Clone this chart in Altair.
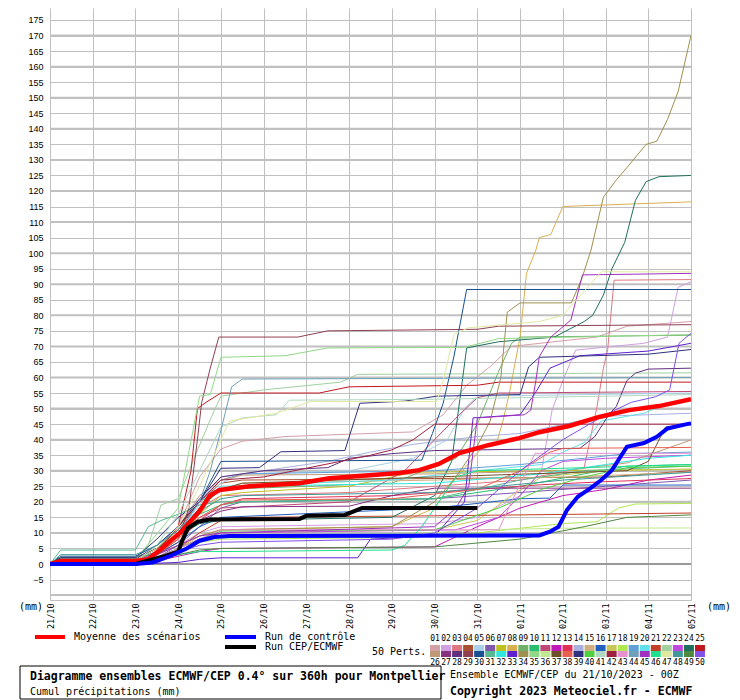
import altair as alt
import pandas as pd

MONO = "DejaVu Sans Mono"

DAY_LABELS = ["21/10", "22/10", "23/10", "24/10", "25/10", "26/10", "27/10", "28/10",
              "29/10", "30/10", "31/10", "01/11", "02/11", "03/11", "04/11", "05/11"]
Y_TICKS = list(range(-5, 180, 5))
THICK_GRID = [v for v in range(-10, 180, 10) if v != 0]

MEMBER_COLORS = [
    "#d4a0a8", "#d0a0e0", "#e07880", "#a85030", "#a8d0e8", "#8058b0", "#c0c020", "#d8b050",
    "#70b068", "#28c070", "#c04878", "#c018b8", "#e03058", "#a8b0e0", "#d0b080", "#2060c0",
    "#c8c858", "#b0e850", "#60a0d8", "#60e0e8", "#c04028", "#a0d0a0", "#c048e0", "#207060",
    "#c01820",
    "#c09878", "#883080", "#603080", "#904050", "#185090", "#58b890", "#30e8e0", "#6020d0",
    "#a09050", "#90d888", "#c0e890", "#705028", "#e86050", "#303080", "#50d040", "#b0d8c0",
    "#a02040", "#e890d0", "#70a0b8", "#a030c0", "#20e090", "#e0e8a0", "#409898", "#508840",
    "#8050e8",
]

# member series: (day since 21/10 00Z, cumulated mm)
m01 = [(0,0),(0.25,1),(2,1),(2.5,3),(3,12),(3.5,28),(4,37),(4.5,39.5),(5.5,41),(8.5,42.5),(9.2,48),(9.75,57.5),(10.3,63.5),(10.8,70),(12.8,73),(13.5,76.5),(15,78)]
m02 = [(0,0),(0.25,1.5),(2,1.5),(2.5,3),(3,6),(3.5,10),(4,12),(9,13),(10,15),(11,22),(11.5,30),(11.75,49.5),(12,59),(12.3,68.8),(13.9,71),(14.45,73),(14.7,89),(15,90.8)]
m03 = [(0,0),(0.25,1),(2,1),(2.5,4),(3,10),(3.5,18),(4,22),(7,23),(9,25),(11,27),(12.5,31),(12.8,50.6),(12.95,63),(13.05,69),(13.2,91.3),(15,91.5)]
m04 = [(0,0),(0.25,1),(2,1),(2.5,5),(3,11),(3.5,20),(4,26),(4.5,27),(9,27.5),(13,28),(15,30)]
m05 = [(0,0),(0.25,1),(2,1),(2.5,4),(3,10),(3.5,19),(4,26),(4.5,29),(7,30),(8.5,34),(9.3,40),(9.7,50),(10,54),(15,55)]
m06 = [(0,0),(0.25,0.5),(2,0.5),(2.5,2),(3,6),(3.5,12),(4,18),(4.5,20),(9,21),(11,23),(13,25),(15,27)]
m07 = [(0,0),(0.25,1),(2,1),(2.5,3),(3,8),(3.5,16),(4,22),(4.5,23),(7,25),(8.5,29.5),(15,30.5)]
m08 = [(0,0),(0.25,1),(2,1),(2.5,2),(3,5),(3.5,9),(4,11),(8,12),(9,18),(9.4,26),(9.65,30),(10.1,37.3),(10.45,39),(10.6,46),(10.75,55),(11,73),(11.15,93.5),(11.37,101),(11.45,105),(11.72,106),(12,115),(15,116.5)]
m09 = [(0,0),(0.25,1.5),(2,1.5),(2.5,5),(3,12),(3.5,20),(4,24),(8,26),(9.5,34),(10,45),(10.5,62),(10.8,71),(11,73),(15,73.6)]
m10 = [(0,0),(0.25,2),(2,2),(2.5,5),(3,10),(3.5,16),(4,19),(4.5,20),(9,21),(11,25),(12.5,29),(13.5,31.5),(15,32)]
m11 = [(0,0),(0.25,1),(2,1),(2.5,4),(3,9),(3.5,15),(4,18),(7,20),(8.3,30),(9,40),(9.5,47),(10,53.5),(10.5,55),(15,55.5)]
m12 = [(0,0),(0.25,0.5),(2,0.5),(2.5,1),(3,2.5),(3.5,4),(4,5),(9,5.5),(10,12),(11,18),(12,22),(13,24),(14,27),(15,28.6)]
m13 = [(0,0),(0.25,1),(2,1),(2.5,3),(3,7),(3.5,14),(4,19),(4.5,21),(8,22),(10,24),(11.5,25.5),(13,26.5),(15,27.5)]
m14 = [(0,0),(0.25,1),(2,1),(2.5,4),(3,10),(3.5,20),(4,28),(5,30),(6.5,33),(7.5,36),(8.5,38.5),(10,41),(11,42),(12.9,47.5),(15,48.5)]
m15 = [(0,0),(0.25,1),(2,1),(2.5,4),(3,10),(3.5,18),(4,24),(4.5,26),(9,27),(12,28),(15,29.5)]
m16 = [(0,0),(0.25,1),(2,1),(2.5,3),(3,7),(3.5,12),(4,15),(9,18),(11,21),(11.7,21.2),(12,25.4),(15,25.4)]
m17 = [(0,0),(0.25,0.5),(2,0.5),(2.5,2),(3,5),(3.5,8),(4,10),(9,11),(10,14),(10.8,22),(11.5,28),(13,30),(15,30.5)]
m18 = [(0,0),(0.25,0.5),(2,0.5),(2.5,2),(3,4),(3.5,7),(4,8),(8,8.5),(10,10),(12,13),(12.8,13.6),(13.3,18),(13.7,19.3),(15,19.5)]
m19 = [(0,0),(0.25,1),(2,1),(2.5,4),(3,10),(3.5,20),(4,27),(4.5,29),(9,30),(11,32),(12.5,34),(13.5,35.5),(15,36)]
m20 = [(0,0),(0.25,1.5),(2,1.5),(2.5,5),(3,12),(3.5,20),(4,25),(8,27),(10,30),(11.5,32),(12,36),(12.5,39),(12.9,46),(13.9,48.5),(14.5,52),(15,53)]
m21 = [(0,0),(0.25,0.5),(2,0.5),(2.5,2),(3,5),(3.5,10),(4,14),(4.5,15),(9,15.5),(15,16.4)]
m22 = [(0,0),(0.25,1),(2,1),(2.3,6),(2.6,19),(3,21),(3.4,35),(3.8,48),(4,54),(5,56),(6.8,58.5),(7.2,61),(15,61.5)]
m23 = [(0,0),(0.25,0.5),(2,0.5),(2.5,2),(3,5),(3.5,8),(4,10),(9.5,11),(10.5,15),(11,22),(11.5,30),(12,33),(13,34),(15,35)]
m24 = [(0,0),(0.25,2),(2,2),(2.5,5),(3,9),(3.5,13),(4,14),(8,15),(9,22),(9.4,33),(9.75,69.5),(10.5,71.5),(11.8,73),(12.15,75.5),(12.5,78),(12.7,80),(12.95,86.5),(13.15,95),(13.45,103.5),(13.7,117),(13.95,123),(14.25,124.6),(15,125)]
m25 = [(0,0),(0.25,1),(2,1),(2.5,4),(3,12),(3.3,30),(3.45,50),(3.65,52),(4,55),(6.3,55),(7,57),(10,57.5),(10.5,58.5),(15,58.5)]
m26 = [(0,0),(0.25,1),(2,1),(2.5,5),(3,12),(3.5,22),(4,27),(4.5,28.6),(9,29),(12,30),(13.5,32.5),(14.2,36),(15,39.9)]
m27 = [(0,0),(0.25,1),(2,1),(2.5,4),(3,9),(3.5,14),(4,17),(4.5,18.4),(7,18.6),(8,22),(9,24.4),(15,24.4)]
m28 = [(0,0),(0.25,1.5),(2,1.5),(2.5,6),(3,12),(3.5,21),(4,28),(5,30),(6.5,31),(7,34),(8,35.5),(9,36.5),(12.4,37.2),(12.75,41),(13.1,48.5),(13.25,50.6),(13.5,59),(13.7,61.4),(14,62.7),(15,63)]
m29 = [(0,0),(0.25,1),(2,1),(2.5,3),(3,8),(3.25,18),(3.45,40),(3.55,52),(3.75,63),(3.95,73),(5.8,73),(6.5,75),(10,75.5),(10.5,76.5),(15,77)]
m30 = [(0,0),(0.25,2.5),(2,2.5),(2.5,6),(3,12),(3.5,20),(4,33),(8.7,33.4),(8.95,42),(9.2,51.7),(9.45,66.6),(9.75,88.3),(15,88.3)]
m31 = [(0,0),(0.25,4.5),(2,4.5),(2.3,12),(2.6,14),(3,16),(3.5,19),(4,20),(9,21),(10,24),(11,27),(12.5,30),(15,31.5)]
m32 = [(0,0),(0.25,1),(2,1),(2.5,4),(3,10),(3.5,18),(4,24),(4.5,25),(9,26),(11.5,29),(13,32),(14,34),(15,35)]
m33 = [(0,0),(0.25,0),(2,0),(3,0.5),(3.5,1.5),(4,2),(7.2,2),(7.5,8),(9,9),(9.7,20),(9.9,47),(11,48),(11.4,56),(11.7,63),(12.4,67),(14,68.5),(14.6,70),(15,71)]
m34 = [(0,0),(0.25,1),(2,1),(2.5,3),(3,6),(3.5,9),(4,11),(8,12),(9,20),(9.5,28),(10,38),(10.3,46),(10.55,60),(10.7,81),(11,84),(12.2,84),(12.45,92),(12.66,101),(12.95,118),(13.25,123.5),(13.5,127.5),(13.95,135),(14.2,136),(14.45,143),(14.7,152),(15,170)]
m35 = [(0,0),(0.25,1.5),(2,1.5),(2.4,8),(3,18),(3.5,54),(3.75,54.5),(4,66.5),(5.5,67),(6.5,69.5),(9.7,69.7),(10.5,72.5),(15,73.8)]
m36 = [(0,0),(0.25,0.5),(2,0.5),(2.5,2),(3,4),(3.5,7),(4,9),(9,10),(10,11),(12,11.5),(15,11.6)]
m37 = [(0,0),(0.25,1),(2,1),(2.5,4),(3,10),(3.5,18),(4,24),(4.5,26),(9,28),(13.5,30),(14,33),(14.4,44),(15,45)]
m38 = [(0,0),(0.25,1),(2,1),(2.5,3),(3,8),(3.5,15),(4,19),(4.5,20.6),(8,21),(10,24),(11,30),(11.7,36),(12,37.2),(15,37.5)]
m39 = [(0,0),(0.25,2),(2,2),(2.5,8),(3,15),(3.5,20),(4,30.8),(4.9,31),(5.4,36.1),(6.9,36.5),(7.25,51.7),(8.3,52.4),(9.05,54),(11,54.5),(11.2,63.4),(11.45,66.5),(14,67.5),(15,69)]
m40 = [(0,0),(0.25,0.5),(2,0.5),(2.5,2),(3,5),(3.5,8),(4,10.6),(9,11),(10.5,18),(11.5,24),(12.5,28),(13.5,31),(15,31.5)]
m41 = [(0,0),(0.25,1),(2,1),(2.5,6),(3,16),(3.5,30),(4,44),(4.5,47),(5.3,48),(5.6,52.7),(9,53),(15,54.5)]
m42 = [(0,0),(0.25,1),(2,1),(2.5,5),(3,12),(3.5,20),(4,27),(5,28),(7.5,35),(8,36.7),(8.5,40),(9,45),(15,45)]
m43 = [(0,0),(0.25,0.5),(2,0.5),(2.5,2),(3,5),(3.5,8),(4,11),(10.5,11),(10.8,20),(11.2,31.3),(11.35,35.6),(15,35.6)]
m44 = [(0,0),(0.25,1),(2,1),(2.5,4),(3,10),(3.5,20),(3.75,30),(4,43),(4.25,57),(4.5,59.5),(15,60)]
m45 = [(0,0),(0.25,1),(2,1),(2.5,3),(3,6),(3.5,9),(4,10),(9,12),(9.5,18),(9.8,25),(10,47),(11.1,48),(11.25,49.5),(11.37,59),(11.45,66.7),(11.72,73),(12.19,78.5),(12.46,93),(15,93.5)]
m46 = [(0,0),(0.25,0.5),(2,0.5),(2.5,1.5),(3,3),(3.5,4),(4,4),(8,4.5),(8.3,6),(8.7,12),(9,18),(9.5,28),(10,30),(15,32)]
m47 = [(0,0),(0.25,1),(2,1),(2.5,5),(3,12),(3.5,25),(4.2,46),(5.3,48.5),(6.1,52.3),(9.05,52.3),(9.2,59),(9.46,74),(9.8,76),(11.45,78),(12,80),(12.9,94),(15,94)]
m48 = [(0,0),(0.25,3),(2,3),(2.5,6),(3,11),(3.5,17),(4,21),(4.5,22),(9,23),(12,27),(15,29.5)]
m49 = [(0,0),(0.25,0.5),(2,0.5),(2.5,1.5),(3,3),(3.5,4.5),(4,5),(9,5.5),(11,8),(12.5,12),(13.5,15),(15,15.8)]
m50 = [(0,0),(0.25,0.5),(2,0.5),(2.5,2),(3,4),(3.5,6),(4,7),(8,8),(9,10),(10,18),(11,30),(12,40),(13,48),(13.6,52),(14.17,53.8),(14.5,56),(14.72,71),(15,74.2)]

MEAN = [(0,0),(0.25,1),(2,1),(2.3,1.5),(2.57,4.5),(3.04,10),(3.5,17),(3.74,22),(3.97,23.8),(4.67,25),(5.84,26),(6.54,27.6),(7.24,28.3),(8.18,29.3),(8.64,30.2),(9.1,32.2),(9.58,35.7),(10.28,38.3),(10.98,40.5),(11.45,42.4),(12.15,44.4),(12.85,47.3),(13.55,49.5),(14.25,50.8),(15,53)]
CONTROL = [(0,0),(2.0,0),(2.4,0.5),(2.8,2.5),(3.2,5),(3.5,7.5),(3.85,8.7),(4.2,9),(11.45,9.2),(11.7,10.4),(11.9,12),(12.1,17.4),(12.35,21.6),(12.65,24.4),(12.9,27),(13.15,30.2),(13.35,34.5),(13.5,37.7),(13.9,38.9),(14.2,40.9),(14.45,43.6),(14.9,45),(15,45.2)]
DETERMINISTIC = [(0,0),(2.0,0),(2.35,1.3),(2.65,2.4),(3.0,4),(3.1,7.7),(3.23,11.6),(3.46,13.6),(3.74,14.3),(5.84,14.5),(6.0,15.5),(6.9,15.8),(7.3,18),(10,18)]

MEMBERS = [m01, m02, m03, m04, m05, m06, m07, m08, m09, m10, m11, m12, m13, m14, m15, m16, m17,
           m18, m19, m20, m21, m22, m23, m24, m25, m26, m27, m28, m29, m30, m31, m32, m33, m34,
           m35, m36, m37, m38, m39, m40, m41, m42, m43, m44, m45, m46, m47, m48, m49, m50]
IDS = [f"{i:02d}" for i in range(1, 51)]

# ---------------- layout (pixels, relative to plot origin) ----------------
W_PLOT, H_PLOT = 641, 592
W_ALL, H_ALL = 724, 692
PAD_L, PAD_T = 42, 0

rows = []
for mid, pts in zip(IDS, MEMBERS):
    for d, v in pts:
        rows.append({"member": mid, "day": d, "mm": v})
df_members = pd.DataFrame(rows)

def to_df(pts):
    return pd.DataFrame({"day": [p[0] for p in pts], "mm": [p[1] for p in pts]})

xs = alt.Scale(domain=[0, 15], nice=False, zero=False)
ys = alt.Scale(domain=[-11.58, 178.86], nice=False, zero=False)

label_expr = "[" + ",".join(f"'{s}'" for s in DAY_LABELS) + "][datum.value]"

x_axis = alt.Axis(values=list(range(16)), labelExpr=label_expr, labelAngle=-90, labelFont=MONO,
                  labelFontSize=8.5, labelColor="#000000", labelPadding=3, ticks=False, domain=True,
                  domainColor="#c0c0c0", domainWidth=1, grid=True, gridColor="#c0c0c0", gridWidth=1,
                  gridOpacity=1, title=None, labelOverlap=False, labelFlush=False, labelBound=False)
y_axis = alt.Axis(values=Y_TICKS, ticks=False, domain=False, labelFont="Liberation Sans",
                  labelFontSize=9, labelColor="#000000", labelPadding=7, grid=True,
                  gridColor="#c0c0c0", gridWidth=1, gridOpacity=1, title=None,
                  labelOverlap=False, labelFlush=False, labelBound=False)

thick = alt.Chart(pd.DataFrame({"v": THICK_GRID})).mark_rule(color="#c0c0c0", strokeWidth=2).encode(
    y=alt.Y("v:Q", scale=ys, axis=None))
zero = alt.Chart(pd.DataFrame({"v": [0]})).mark_rule(color="#999999", strokeWidth=2).encode(
    y=alt.Y("v:Q", scale=ys, axis=None))

members = alt.Chart(df_members).mark_line(strokeWidth=1, clip=True).encode(
    x=alt.X("day:Q", scale=xs, axis=x_axis),
    y=alt.Y("mm:Q", scale=ys, axis=y_axis),
    color=alt.Color("member:N", scale=alt.Scale(domain=IDS, range=MEMBER_COLORS), legend=None),
)

def thick_line(pts, color, width):
    return alt.Chart(to_df(pts)).mark_line(color=color, strokeWidth=width, clip=True).encode(
        x=alt.X("day:Q", scale=xs, axis=None),
        y=alt.Y("mm:Q", scale=ys, axis=None))

mean_l = thick_line(MEAN, "#ff0000", 4.5)
det_l = thick_line(DETERMINISTIC, "#000000", 4)
ctl_l = thick_line(CONTROL, "#0000ff", 4)

# ---------------- legend / annotations ----------------
leg_lines = pd.DataFrame({
    "x": [-15, 175, 175], "x2": [15, 206, 206], "y": [629, 629, 639],
    "c": ["#ff0000", "#0000ff", "#000000"]})
leg = alt.Chart(leg_lines).mark_rule(strokeWidth=4).encode(
    x=alt.X("x:Q", scale=None, axis=None), x2="x2:Q",
    y=alt.Y("y:Q", scale=None, axis=None),
    color=alt.Color("c:N", scale=None))

sw_rows = []
for i, c in enumerate(MEMBER_COLORS):
    col = i % 25
    row = i // 25
    x0 = 380 + col * 11.04
    y0 = 637 + row * 6
    sw_rows.append({"x": x0, "x2": x0 + 10, "y": y0, "y2": y0 + 6, "c": c})
swatches = alt.Chart(pd.DataFrame(sw_rows)).mark_rect().encode(
    x=alt.X("x:Q", scale=None, axis=None), x2="x2:Q",
    y=alt.Y("y:Q", scale=None, axis=None), y2="y2:Q",
    color=alt.Color("c:N", scale=None))

num_rows = []
for i, mid in enumerate(IDS):
    col = i % 25
    row = i // 25
    num_rows.append({"x": 385 + col * 11.04, "y": 631 if row == 0 else 654.5, "t": mid})
numbers = alt.Chart(pd.DataFrame(num_rows)).mark_text(
    font=MONO, fontSize=8, align="center", baseline="middle", fill="#000000").encode(
    x=alt.X("x:Q", scale=None, axis=None), y=alt.Y("y:Q", scale=None, axis=None), text="t:N")

box = alt.Chart(pd.DataFrame({"x": [-30], "x2": [391], "y": [658], "y2": [691]})).mark_rect(
    fill="white", stroke="black", strokeWidth=1).encode(
    x=alt.X("x:Q", scale=None, axis=None), x2="x2:Q",
    y=alt.Y("y:Q", scale=None, axis=None), y2="y2:Q")

TEXTS_NORMAL = [
    (-31, 599, "(mm)", 10),
    (657, 599, "(mm)", 10),
    (24, 629, "Moyenne des scénarios", 10),
    (215, 629, "Run de contrôle", 10),
    (215, 639, "Run CEP/ECMWF", 10),
    (322, 644, "50 Perts.", 10),
    (400, 667, "Ensemble ECMWF/CEP du 21/10/2023 - 00Z", 10),
    (-20, 684, "Cumul précipitations (mm)", 10),
]
TEXTS_BOLD = [
    (-20, 669, "Diagramme ensembles ECMWF/CEP 0.4° sur 360h pour Montpellier", 11.5),
    (400, 684, "Copyright 2023 Meteociel.fr - ECMWF", 11.5),
]

def text_layer(items, weight):
    df = pd.DataFrame({"x": [t[0] for t in items], "y": [t[1] for t in items],
                       "t": [t[2] for t in items], "s": [t[3] for t in items]})
    return alt.Chart(df).mark_text(font=MONO, fontWeight=weight, align="left",
                                   baseline="middle", fill="#000000").encode(
        x=alt.X("x:Q", scale=None, axis=None), y=alt.Y("y:Q", scale=None, axis=None),
        text="t:N", size=alt.Size("s:Q", scale=None))

chart = alt.layer(
    thick, zero, members, mean_l, det_l, ctl_l,
    leg, swatches, numbers, box,
    text_layer(TEXTS_NORMAL, "normal"), text_layer(TEXTS_BOLD, "bold"),
).resolve_scale(
    x="independent", y="independent", color="independent", size="independent"
).properties(
    width=W_PLOT, height=H_PLOT,
    padding={"left": PAD_L, "top": PAD_T, "right": W_ALL - PAD_L - W_PLOT, "bottom": H_ALL - H_PLOT},
    autosize=alt.AutoSizeParams(type="none"),
    background="white",
).configure_view(stroke=None)

chart.save("out.html", embed_options={"renderer": "svg", "actions": False})
